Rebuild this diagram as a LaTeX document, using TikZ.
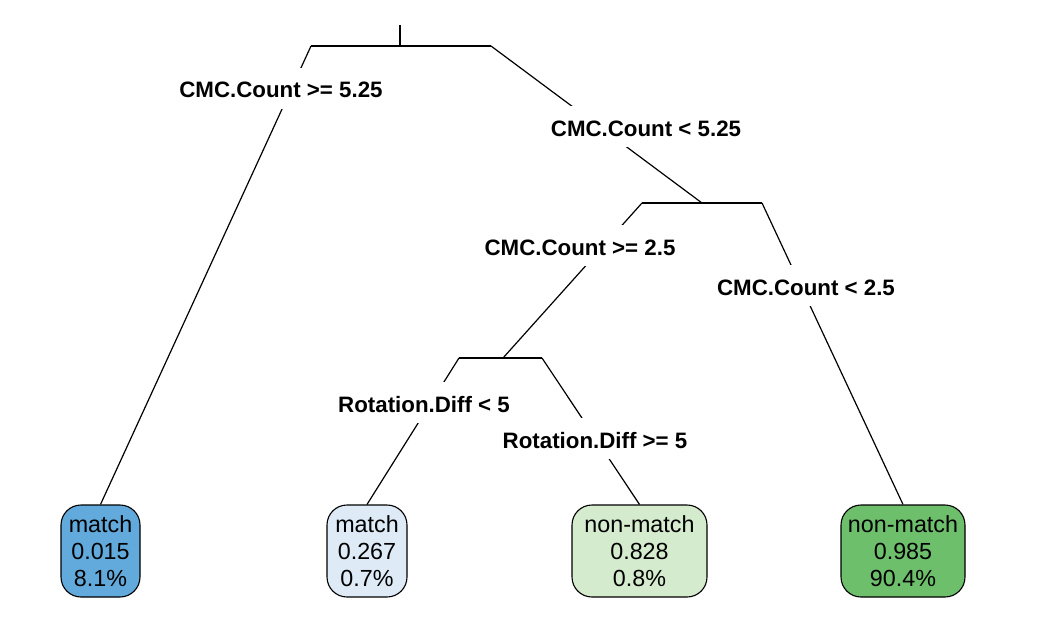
\documentclass[tikz,border=0pt]{standalone}
\usepackage{fontspec}
\setmainfont{Liberation Sans}
\usetikzlibrary{positioning}
\definecolor{leafblue}{RGB}{98,170,220}
\definecolor{leafpaleblue}{RGB}{222,235,247}
\definecolor{leafpalegreen}{RGB}{213,235,205}
\definecolor{leafgreen}{RGB}{109,191,107}
\tikzset{
  branch/.style={black, line width=1.2pt},
  splitlabel/.style={fill=white, font=\fontsize{22.3}{24}\selectfont\bfseries, inner xsep=2pt, inner ysep=0pt, text height=30pt, text depth=11pt, anchor=base},
  leafbox/.style={draw=black, line width=1.1pt, rounded corners=20pt, align=center, minimum height=92pt, inner xsep=0pt, font=\fontsize{23.3}{27}\selectfont}
}
\begin{document}
\begin{tikzpicture}[x=1pt, y=-1pt]
    \useasboundingbox (0,0) rectangle (1062,623);

    % split bars
    \coordinate (top) at (400,25);
    \coordinate (n1) at (400,46);
    \coordinate (n1l) at (311,46);
    \coordinate (n1r) at (491,46);
    \coordinate (n2) at (702,203);
    \coordinate (n2l) at (642,203);
    \coordinate (n2r) at (762,203);
    \coordinate (n3) at (503,358);
    \coordinate (n3l) at (459,358);
    \coordinate (n3r) at (542,358);

    % leaves
    \node[leafbox, fill=leafblue, minimum width=79pt] (leaf1) at (100.5,551) {match\\0.015\\8.1\%};
    \node[leafbox, fill=leafpaleblue, minimum width=80pt] (leaf2) at (367,551) {match\\0.267\\0.7\%};
    \node[leafbox, fill=leafpalegreen, minimum width=135pt] (leaf3) at (639.5,551) {non-match\\0.828\\0.8\%};
    \node[leafbox, fill=leafgreen, minimum width=124pt] (leaf4) at (903,551) {non-match\\0.985\\90.4\%};

    \draw[branch] (top) -- (n1);
    \draw[branch] (n1l) -- (n1r);
    \draw[branch] (n1l) -- (leaf1.north);
    \draw[branch] (n1r) -- (n2);
    \draw[branch] (n2l) -- (n2r);
    \draw[branch] (n2l) -- (n3);
    \draw[branch] (n2r) -- (leaf4.north);
    \draw[branch] (n3l) -- (n3r);
    \draw[branch] (n3l) -- (leaf2.north);
    \draw[branch] (n3r) -- (leaf3.north);

    % split labels
    \node[splitlabel] (lab1) at (281,98) {CMC.Count >= 5.25};
    \node[splitlabel] (lab2) at (646,136) {CMC.Count < 5.25};
    \node[splitlabel] (lab3) at (580,255) {CMC.Count >= 2.5};
    \node[splitlabel] (lab4) at (806,295) {CMC.Count < 2.5};
    \node[splitlabel] (lab5) at (424,412) {Rotation.Diff < 5};
    \node[splitlabel] (lab6) at (595,448) {Rotation.Diff >= 5};

\end{tikzpicture}
\end{document}
